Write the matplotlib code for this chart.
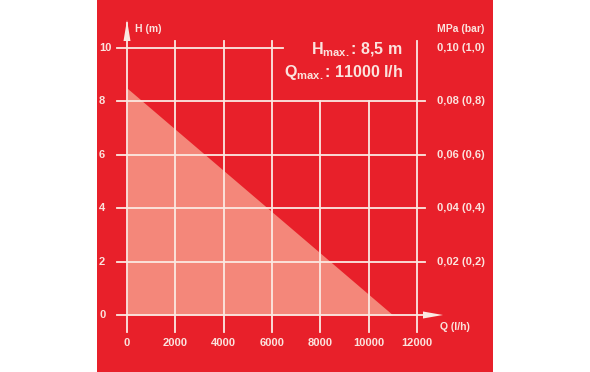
import matplotlib
matplotlib.use("Agg")
import matplotlib.pyplot as plt
from matplotlib.patches import Rectangle

# pump curve data
q_curve = [0, 11000]
h_curve = [8.5, 0]
q_ticks = [0, 2000, 4000, 6000, 8000, 10000, 12000]
h_ticks = [0, 2, 4, 6, 8, 10]
p_ticks = [2, 4, 6, 8, 10]
p_labels = ["0,02 (0,2)", "0,04 (0,4)", "0,06 (0,6)", "0,08 (0,8)", "0,10 (1,0)"]

RED = "#e8202a"
FILL = "#f4877a"
LINE = "#fbe9e2"
TXT = "#fbe3de"

plt.rcParams['font.family'] = ['Liberation Sans Narrow', 'Liberation Sans', 'DejaVu Sans']

fig = plt.figure(figsize=(5.9, 3.72), dpi=100)
fig.patches.append(Rectangle((97 / 590, 0), (493 - 97) / 590, 1, transform=fig.transFigure,
                             facecolor=RED, edgecolor="none", zorder=-10))

ax = fig.add_axes([127 / 590, 57 / 372, 290 / 590, 267 / 372])
ax.set_xlim(0, 12000)
ax.set_ylim(0, 10)
ax.axis("off")

# px -> data helpers
qpx = 12000 / 290
hpx = 10 / 267

ax.fill_between(q_curve, h_curve, 0, color=FILL, lw=0, zorder=1)

lw = 1.3
bottom = -17 * hpx
top = 10 + 7 * hpx
for q in q_ticks:
    if q in (8000, 10000):
        ax.plot([q, q], [bottom, 8], color=LINE, lw=lw, clip_on=False, zorder=2)
    elif q == 0:
        ax.plot([q, q], [bottom, 10 + 25 * hpx], color=LINE, lw=lw, clip_on=False, zorder=2)
    else:
        ax.plot([q, q], [bottom, top], color=LINE, lw=lw, clip_on=False, zorder=2)
for h in h_ticks:
    if h == 10:
        ax.plot([-10 * qpx, 6450], [h, h], color=LINE, lw=lw, clip_on=False, zorder=2)
    elif h == 0:
        ax.plot([-10 * qpx, 12000 + 10 * qpx], [h, h], color=LINE, lw=lw, clip_on=False, zorder=2)
    else:
        ax.plot([-10 * qpx, 12000 + 8 * qpx], [h, h], color=LINE, lw=lw, clip_on=False, zorder=2)

# axis arrows
ax.fill([-3.5 * qpx, 3.5 * qpx, 0], [10 + 7 * hpx, 10 + 7 * hpx, 10 + 28 * hpx],
        color=LINE, lw=0, clip_on=False, zorder=3)
ax.fill([12000 + 6 * qpx, 12000 + 6 * qpx, 12000 + 26 * qpx], [-3.5 * hpx, 3.5 * hpx, 0],
        color=LINE, lw=0, clip_on=False, zorder=3)

fs = 8
for h in h_ticks:
    ax.text(-28 * qpx, h, str(h), color=TXT, fontsize=fs, fontweight="bold",
            ha="left", va="center", clip_on=False)
for q in q_ticks:
    ax.text(q, -28 * hpx, str(q), color=TXT, fontsize=fs, fontweight="bold",
            ha="center", va="center", clip_on=False)
for p, lab in zip(p_ticks, p_labels):
    ax.text(12000 + 20 * qpx, p, lab, color=TXT, fontsize=fs, fontweight="bold",
            ha="left", va="center", clip_on=False)

ax.text(8 * qpx, 10 + 19 * hpx, "H (m)", color=TXT, fontsize=7.5, fontweight="bold",
        ha="left", va="center", clip_on=False)
ax.text(12000 + 20 * qpx, 10 + 19 * hpx, "MPa (bar)", color=TXT, fontsize=7.5, fontweight="bold",
        ha="left", va="center", clip_on=False)
ax.text(12000 + 23 * qpx, -12 * hpx, "Q (l/h)", color=TXT, fontsize=7.5, fontweight="bold",
        ha="left", va="center", clip_on=False)

ax.text(12000 - 14 * qpx, 10 - 2 * hpx, r"H$_{\mathregular{max.}}$: 8,5 m", color=TXT, fontsize=11.5,
        fontweight="bold", ha="right", va="center", clip_on=False)
ax.text(12000 - 14 * qpx, 10 - 25 * hpx, r"Q$_{\mathregular{max.}}$: 11000 l/h", color=TXT, fontsize=11.5,
        fontweight="bold", ha="right", va="center", clip_on=False)

fig.savefig("out.png", dpi=100, facecolor="white")
